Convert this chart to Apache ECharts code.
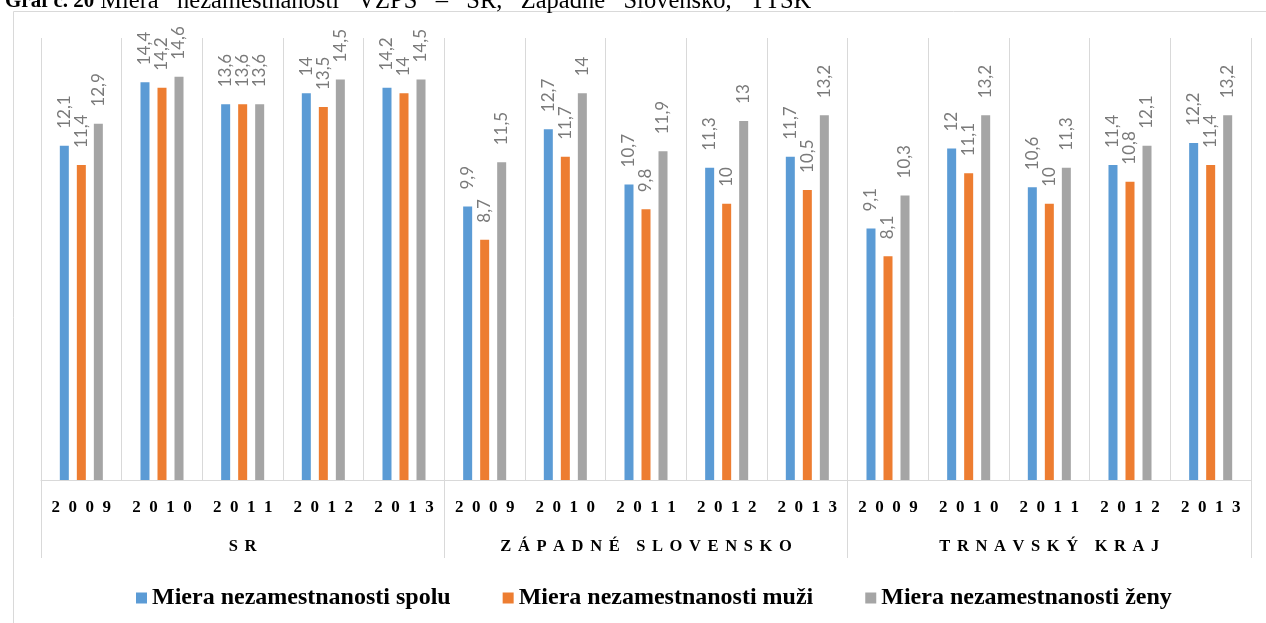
<!DOCTYPE html>
<html>
<head>
<meta charset="utf-8">
<script src="https://cdn.jsdelivr.net/npm/echarts@6/dist/echarts.min.js"></script>
<style>
html,body{margin:0;padding:0;background:#fff;}
#chart{width:1266px;height:623px;}
</style>
</head>
<body>
<div id="chart"></div>
<script>
// ---- data ----
const groups = ['SR', 'ZÁPADNÉ SLOVENSKO', 'TRNAVSKÝ KRAJ'];
const years = ['2009', '2010', '2011', '2012', '2013'];
const seriesNames = ['Miera nezamestnanosti spolu', 'Miera nezamestnanosti muži', 'Miera nezamestnanosti ženy'];
const spolu = [12.1, 14.4, 13.6, 14.0, 14.2, 9.9, 12.7, 10.7, 11.3, 11.7, 9.1, 12.0, 10.6, 11.4, 12.2];
const muzi  = [11.4, 14.2, 13.6, 13.5, 14.0, 8.7, 11.7, 9.8, 10.0, 10.5, 8.1, 11.1, 10.0, 10.8, 11.4];
const zeny  = [12.9, 14.6, 13.6, 14.5, 14.5, 11.5, 14.0, 11.9, 13.0, 13.2, 10.3, 13.2, 11.3, 12.1, 13.2];
const titleBold = 'Graf č. 20';
const titleRest = 'Miera nezamestnanosti VZPS – SR, Západné Slovensko, TTSK';

// ---- build ----
const categories = [];
groups.forEach(g => years.forEach(y => categories.push(g + '|' + y)));
const spaced = s => s.split('').join('\u2002');
const spacedWords = s => s.split(' ').map(w => w.split('').join('\u2009\u2009')).join('\u2002\u2002');
const colors = ['#5B9BD5', '#ED7D31', '#A5A5A5'];
const serif = 'Liberation Serif';

function barSeries(name, data, color) {
  return {
    name: name, type: 'bar', data: data, xAxisIndex: 0,
    barWidth: 9, barGap: '89%',
    itemStyle: { color: color },
    label: {
      show: true, position: 'top', rotate: 90, align: 'left', verticalAlign: 'middle',
      distance: 17, color: '#7a7a7a', fontSize: 17, fontFamily: 'Lato',
      formatter: p => String(p.value).replace('.', ',')
    }
  };
}

const chart = echarts.init(document.getElementById('chart'));
chart.setOption({
  animation: false,
  backgroundColor: '#fff',
  textStyle: { fontFamily: serif },
  title: {
    left: 0, top: -16,
    text: '{b|' + titleBold + '} {r|' + titleRest.split(' ').join(' \u2002') + '}',
    textStyle: {
      fontFamily: serif, fontSize: 24, fontWeight: 'normal', color: '#000',
      rich: {
        b: { fontFamily: serif, fontSize: 21, fontWeight: 'bold', color: '#000' },
        r: { fontFamily: serif, fontSize: 24.5, fontWeight: 'normal', color: '#000' }
      }
    }
  },
  graphic: [{
    type: 'rect', left: 11, top: 9, z: -1,
    shape: { x: 0, y: 0, width: 1300, height: 700 },
    style: { fill: 'none', stroke: '#d9d9d9', lineWidth: 1 }
  }],
  grid: { left: 41, right: 15, top: 38, bottom: 143, containLabel: false },
  legend: {
    data: seriesNames, left: 131, top: 581, icon: 'rect', itemWidth: 11, itemHeight: 11,
    itemGap: 52,
    textStyle: { fontFamily: serif, fontWeight: 'bold', fontSize: 24, color: '#000' }
  },
  xAxis: [{
    type: 'category', data: categories, position: 'bottom',
    axisLine: { show: true, lineStyle: { color: '#d9d9d9', width: 1 } },
    axisTick: { show: false },
    splitLine: { show: true, lineStyle: { color: '#d9d9d9', width: 1 } },
    axisLabel: {
      interval: 0, margin: 19, fontFamily: serif, fontWeight: 'bold', fontSize: 17, color: '#000',
      formatter: v => spaced(v.split('|')[1])
    }
  }, {
    type: 'category', data: groups, position: 'bottom',
    axisLine: { show: false },
    axisTick: { show: true, length: 78, lineStyle: { color: '#d9d9d9', width: 1 } },
    axisLabel: {
      interval: 0, margin: 58, fontFamily: serif, fontWeight: 'bold', fontSize: 16.5, color: '#000',
      formatter: v => spacedWords(v)
    }
  }],
  yAxis: { type: 'value', min: 0, max: 16, show: false, splitLine: { show: false } },
  series: [
    barSeries(seriesNames[0], spolu, colors[0]),
    barSeries(seriesNames[1], muzi, colors[1]),
    barSeries(seriesNames[2], zeny, colors[2])
  ]
});
</script>
</body>
</html>
